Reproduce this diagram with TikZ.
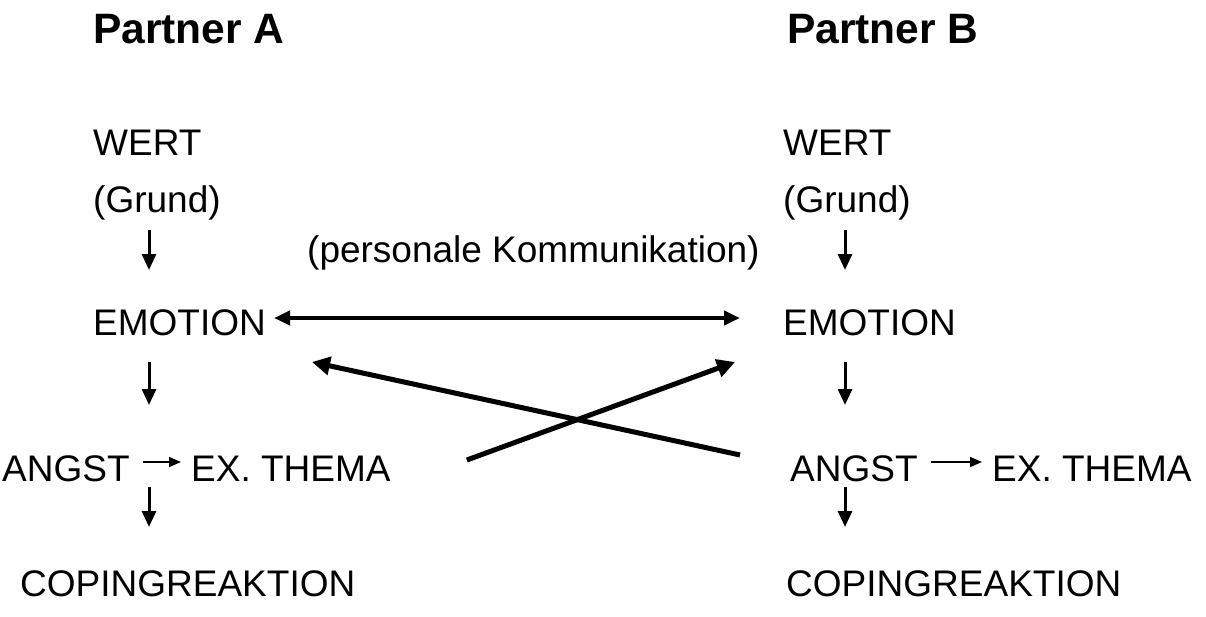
\documentclass[tikz,border=0pt]{standalone}
\usepackage{fontspec}
\setmainfont{Liberation Sans}
\usetikzlibrary{arrows.meta,calc}
\begin{document}
\begin{tikzpicture}[x={(1pt,0)},y={(0,-1pt)},
  tx/.style={anchor=base west,inner sep=0,font=\fontsize{37}{41}\selectfont},
  hd/.style={anchor=base west,inner sep=0,font=\fontsize{42.5}{47}\selectfont\bfseries},
  dn/.style={line width=3pt,-{Triangle[length=16pt,width=14pt]}},
  sm/.style={line width=1.5pt,-{Triangle[length=12pt,width=10pt]}},
  dbl/.style={line width=4pt,{Triangle[length=16pt,width=14pt]}-{Triangle[length=16pt,width=14pt]}},
  cr/.style={line width=5pt,-{Triangle[length=18pt,width=18pt]}}]
\useasboundingbox (0,0) rectangle (1206,616);
% Partner A
\node[hd] (pA) at (93,43) {Partner A};
\node[tx] (wA) at (93,155) {WERT};
\node[tx] (gA) at (93,212) {(Grund)};
\node[tx] (eA) at (93,335) {EMOTION};
\node[tx] (aA) at (2,481) {ANGST};
\node[tx] (xA) at (191,481) {EX. THEMA};
\node[tx] (cA) at (20,596) {COPINGREAKTION};
% Partner B
\node[hd] (pB) at (787,43) {Partner B};
\node[tx] (wB) at (783,155) {WERT};
\node[tx] (gB) at (783,212) {(Grund)};
\node[tx] (eB) at (783,335) {EMOTION};
\node[tx] (aB) at (790,481) {ANGST};
\node[tx] (xB) at (992,481) {EX. THEMA};
\node[tx] (cB) at (786,596) {COPINGREAKTION};
% middle label
\node[tx] (pk) at (307,262) {(personale Kommunikation)};
% arrows A
\draw[dn] ($(gA.base west)+(56,18)$) -- ($(eA.base west)+(56,-65)$);
\draw[dn] ($(eA.base west)+(56,27)$) -- ($(aA.base west)+(147,-76)$);
\draw[dn] ($(aA.base west)+(147,6)$) -- ($(cA.base west)+(129,-69)$);
\draw[sm] ($(aA.base east)+(13,-19)$) -- ($(xA.base west)+(-10,-19)$);
% arrows B
\draw[dn] ($(gB.base west)+(62,18)$) -- ($(eB.base west)+(62,-65)$);
\draw[dn] ($(eB.base west)+(62,27)$) -- ($(aB.base west)+(55,-76)$);
\draw[dn] ($(aB.base west)+(55,6)$) -- ($(cB.base west)+(59,-69)$);
\draw[sm] ($(aB.base east)+(13,-19)$) -- ($(xB.base west)+(-10,-19)$);
% communication
\draw[dbl] ($(eA.base west)+(181,-17)$) -- ($(eB.base west)+(-43,-17)$);
\draw[cr] ($(aB.base west)+(-50,-26)$) -- ($(eA.base west)+(219,27)$);
\draw[cr] ($(xA.base east)+(76,-21)$) -- ($(eB.base west)+(-48,27)$);
\end{tikzpicture}
\end{document}
